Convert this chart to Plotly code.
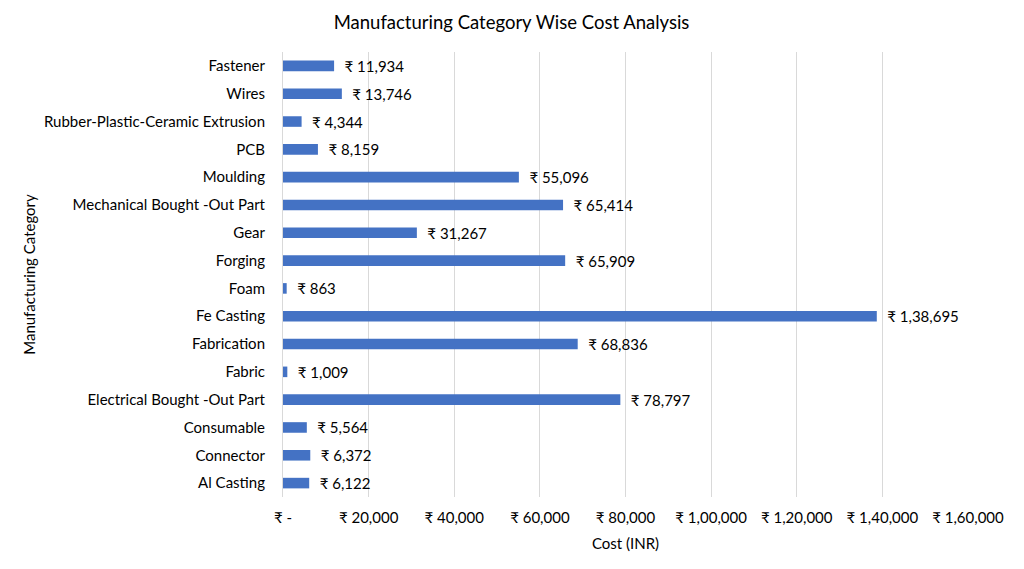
import plotly.graph_objects as go

categories = ["Al Casting", "Connector", "Consumable", "Electrical Bought -Out Part", "Fabric",
              "Fabrication", "Fe Casting", "Foam", "Forging", "Gear",
              "Mechanical Bought -Out Part", "Moulding", "PCB",
              "Rubber-Plastic-Ceramic Extrusion", "Wires", "Fastener"]
costs = [6122, 6372, 5564, 78797, 1009, 68836, 138695, 863, 65909, 31267,
         65414, 55096, 8159, 4344, 13746, 11934]
tick_vals = [0, 20000, 40000, 60000, 80000, 100000, 120000, 140000, 160000]


def inr(n):
    s = str(int(n))
    if len(s) <= 3:
        return s
    head, tail = s[:-3], s[-3:]
    parts = []
    while len(head) > 2:
        parts.insert(0, head[-2:])
        head = head[:-2]
    if head:
        parts.insert(0, head)
    return ",".join(parts) + "," + tail


tick_text = ["₹ -" if v == 0 else "₹ " + inr(v) for v in tick_vals]
bar_text = ["\u2002₹ " + inr(v) for v in costs]

FONT = "Lato"
FS = 15

fig = go.Figure(go.Bar(
    x=costs, y=categories, orientation="h",
    marker=dict(color="#4472C4", line=dict(width=0)),
    width=0.38,
    text=bar_text, textposition="outside", cliponaxis=False, constraintext="none",
    textfont=dict(family=FONT, size=FS, color="#000000"),
))

fig.update_layout(
    width=1016, height=561,
    paper_bgcolor="white", plot_bgcolor="white",
    margin=dict(l=275, r=56, t=44, b=72, autoexpand=False),
    title=dict(text="Manufacturing Category Wise Cost Analysis", x=0.4956, xanchor="center",
               y=0.975, yanchor="middle", font=dict(family=FONT, size=18.5, color="#000000")),
    font=dict(family=FONT, size=FS, color="#000000"),
    showlegend=False,
)
fig.update_xaxes(
    range=[0, 160000], tickvals=tick_vals, ticktext=tick_text, automargin=False,
    showgrid=True, gridcolor="#d9d9d9", gridwidth=1, zeroline=False,
    showline=False, ticks="", ticklabelstandoff=10,
    title=dict(text="Cost (INR)", font=dict(family=FONT, size=FS), standoff=13),
    tickfont=dict(family=FONT, size=FS, color="#000000"),
)
fig.update_yaxes(
    categoryorder="array", categoryarray=categories, range=[-0.5, 15.5], automargin=False,
    showgrid=False, zeroline=False, showline=True, linecolor="#d9d9d9", linewidth=1,
    ticks="", ticklabelstandoff=14,
    title=dict(text="Manufacturing Category", font=dict(family=FONT, size=FS), standoff=4),
    tickfont=dict(family=FONT, size=FS, color="#000000"),
)

fig.write_html("out.html")
